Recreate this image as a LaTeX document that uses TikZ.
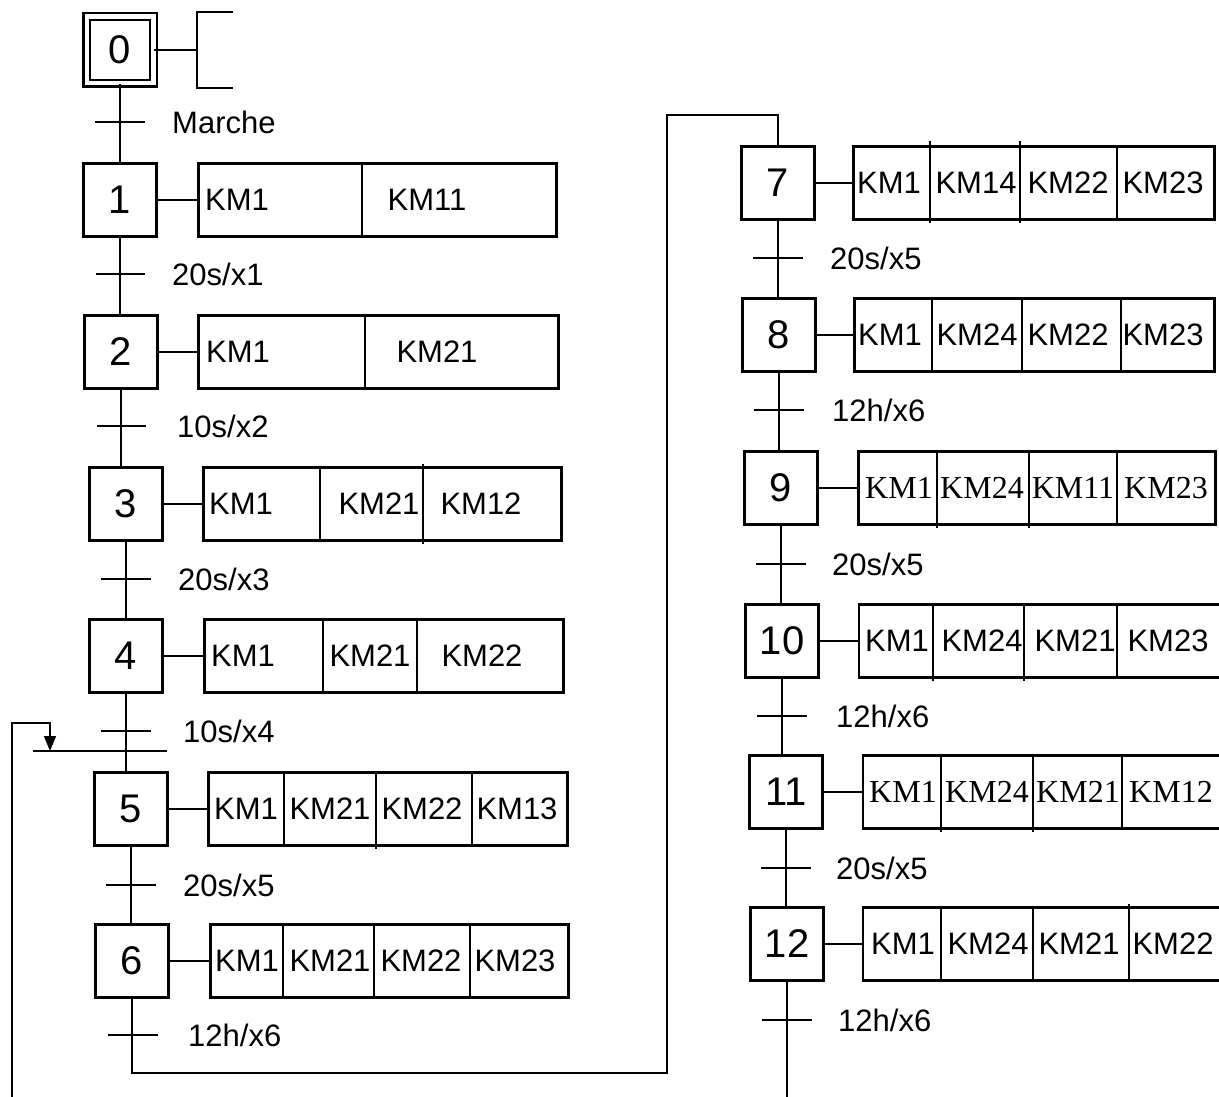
\documentclass[tikz,border=0pt]{standalone}
\usepackage{fontspec}
\setmainfont{Liberation Sans}
\newfontfamily\timesfont{Liberation Serif}
\usetikzlibrary{arrows.meta}
\begin{document}
\begin{tikzpicture}[x=1pt,y=-1pt]
	\tikzstyle{every node}=[font=\fontsize{31}{36}\selectfont]
	\tikzstyle{etape}=[draw, line width=2.8pt, minimum size=73.5pt, inner sep=0pt, font=\fontsize{40}{48}\selectfont]
	\tikzstyle{action}=[draw, line width=2.8pt, minimum height=73.5pt, inner sep=0pt]
	\tikzstyle{recept}=[inner sep=0pt, anchor=west]
	\tikzstyle{lien}=[line width=2.4pt]
	\tikzstyle{fin}=[line width=1.6pt]
	\useasboundingbox (0,0) rectangle (1219,1097);
	% colonne gauche
	\node [etape, double, double distance=4.5pt, line width=2.3pt, minimum size=66.5pt] (s0) at (120,50) {0};
	\node [etape] (s1) at (120,200) {1};
	\node [etape] (s2) at (121,352) {2};
	\node [etape] (s3) at (126,504) {3};
	\node [etape] (s4) at (126,656) {4};
	\node [etape] (s5) at (131,809) {5};
	\node [etape] (s6) at (132,961) {6};
	\coordinate (a0) at (197,50);
	\node [action, minimum width=358pt] (a1) at (377.5,200) {};
	\node [action, minimum width=360pt] (a2) at (378.5,352) {};
	\node [action, minimum width=358pt] (a3) at (382.5,504) {};
	\node [action, minimum width=359pt] (a4) at (384,656) {};
	\node [action, minimum width=359pt] (a5) at (388,809) {};
	\node [action, minimum width=358pt] (a6) at (389.5,961) {};
	\draw [lien] (s0.east) -- (a0);
	\draw [lien] (233,12) -- (197,12) -- (197,88) -- (233,88);
	\draw [lien] (s1.east) -- (a1.west);
	\draw [lien] (s2.east) -- (a2.west);
	\draw [lien] (s3.east) -- (a3.west);
	\draw [lien] (s4.east) -- (a4.west);
	\draw [lien] (s5.east) -- (a5.west);
	\draw [lien] (s6.east) -- (a6.west);
	\draw [fin] (362,162) -- (362,238);
	\draw [fin] (365,314) -- (365,390);
	\draw [fin] (320,466) -- (320,542) (423,464) -- (423,544);
	\draw [fin] (323,618) -- (323,694) (417,618) -- (417,694);
	\draw [fin] (284,771) -- (284,847) (376,771) -- (376,849) (472,771) -- (472,847);
	\draw [fin] (283,923) -- (283,999) (374,923) -- (374,999) (470,923) -- (470,999);
	\node (k1a) at (237,200) {KM1};
	\node (k1b) at (427,200) {KM11};
	\node (k2a) at (238,352) {KM1};
	\node (k2b) at (437,352) {KM21};
	\node (k3a) at (241,504) {KM1};
	\node (k3b) at (379,504) {KM21};
	\node (k3c) at (481,504) {KM12};
	\node (k4a) at (243,656) {KM1};
	\node (k4b) at (370,656) {KM21};
	\node (k4c) at (482,656) {KM22};
	\node (k5a) at (246,809) {KM1};
	\node (k5b) at (330,809) {KM21};
	\node (k5c) at (422,809) {KM22};
	\node (k5d) at (517,809) {KM13};
	\node (k6a) at (247,961) {KM1};
	\node (k6b) at (330,961) {KM21};
	\node (k6c) at (421,961) {KM22};
	\node (k6d) at (515,961) {KM23};
	\draw [lien] (s0.south) -- (s0.south |- s1.north);
	\draw [lien] (s1.south) -- (s1.south |- s2.north);
	\draw [lien] (s2.south) -- (s2.south |- s3.north);
	\draw [lien] (s3.south) -- (s3.south |- s4.north);
	\draw [lien] (s4.south) -- (s4.south |- s5.north);
	\draw [lien] (s5.south) -- (s5.south |- s6.north);
	\draw [lien] (95,122) -- (145,122);
	\draw [lien] (96,274) -- (145,274);
	\draw [lien] (97,426) -- (146,426);
	\draw [lien] (101,579) -- (151,579);
	\draw [lien] (101,731) -- (151,731);
	\draw [lien] (33,751) -- (167,751);
	\draw [lien] (106,885) -- (156,885);
	\draw [lien] (108,1035) -- (158,1035);
	\node [recept] (t0) at (172,122) {Marche};
	\node [recept] (t1) at (172,274) {20s/x1};
	\node [recept] (t2) at (177,426) {10s/x2};
	\node [recept] (t3) at (178,579) {20s/x3};
	\node [recept] (t4) at (183,731) {10s/x4};
	\node [recept] (t5) at (183,885) {20s/x5};
	\node [recept] (t6) at (188,1035) {12h/x6};
	% colonne droite
	\node [etape] (s7) at (778,183) {7};
	\node [etape] (s8) at (779,335) {8};
	\node [etape] (s9) at (781,488) {9};
	\node [etape] (s10) at (782,641) {10};
	\node [etape] (s11) at (786,792) {11};
	\node [etape] (s12) at (787,944) {12};
	\node [action, minimum width=361pt] (a7) at (1034,183) {};
	\node [action, minimum width=360pt] (a8) at (1034.5,335) {};
	\node [action, minimum width=357pt] (a9) at (1037,488) {};
	\node [action, minimum width=364pt] (a10) at (1041,641) {};
	\node [action, minimum width=360pt] (a11) at (1043,792) {};
	\node [action, minimum width=360pt] (a12) at (1043,944) {};
	\draw [lien] (s7.east) -- (a7.west);
	\draw [lien] (s8.east) -- (a8.west);
	\draw [lien] (s9.east) -- (a9.west);
	\draw [lien] (s10.east) -- (a10.west);
	\draw [lien] (s11.east) -- (a11.west);
	\draw [lien] (s12.east) -- (a12.west);
	\draw [fin] (930,141) -- (930,223) (1020,141) -- (1020,223) (1117,145) -- (1117,221);
	\draw [fin] (932,297) -- (932,373) (1022,297) -- (1022,373) (1121,297) -- (1121,373);
	\draw [fin] (937,450) -- (937,528) (1029,450) -- (1029,528) (1117,450) -- (1117,526);
	\draw [fin] (933,603) -- (933,681) (1024,603) -- (1024,681) (1117,603) -- (1117,679);
	\draw [fin] (941,754) -- (941,832) (1033,754) -- (1033,832) (1122,754) -- (1122,830);
	\draw [fin] (941,906) -- (941,982) (1033,906) -- (1033,982) (1129,904) -- (1129,982);
	\node (k7a) at (889,183) {KM1};
	\node (k7b) at (976,183) {KM14};
	\node (k7c) at (1068,183) {KM22};
	\node (k7d) at (1163,183) {KM23};
	\node (k8a) at (890,335) {KM1};
	\node (k8b) at (977,335) {KM24};
	\node (k8c) at (1068,335) {KM22};
	\node (k8d) at (1163,335) {KM23};
	\node [font=\fontsize{32}{36}\timesfont] (k9a) at (899,488) {KM1};
	\node [font=\fontsize{32}{36}\timesfont] (k9b) at (982,488) {KM24};
	\node [font=\fontsize{32}{36}\timesfont] (k9c) at (1073,488) {KM11};
	\node [font=\fontsize{32}{36}\timesfont] (k9d) at (1166,488) {KM23};
	\node (k10a) at (897,641) {KM1};
	\node (k10b) at (982,641) {KM24};
	\node (k10c) at (1075,641) {KM21};
	\node (k10d) at (1168,641) {KM23};
	\node [font=\fontsize{32}{36}\timesfont] (k11a) at (903,792) {KM1};
	\node [font=\fontsize{32}{36}\timesfont] (k11b) at (987,792) {KM24};
	\node [font=\fontsize{32}{36}\timesfont] (k11c) at (1078,792) {KM21};
	\node [font=\fontsize{32}{36}\timesfont] (k11d) at (1171,792) {KM12};
	\node (k12a) at (903,944) {KM1};
	\node (k12b) at (988,944) {KM24};
	\node (k12c) at (1079,944) {KM21};
	\node (k12d) at (1173,944) {KM22};
	\draw [lien] (s7.south) -- (s7.south |- s8.north);
	\draw [lien] (s8.south) -- (s8.south |- s9.north);
	\draw [lien] (s9.south) -- (s9.south |- s10.north);
	\draw [lien] (s10.south) -- (s10.south |- s11.north);
	\draw [lien] (s11.south) -- (s11.south |- s12.north);
	\draw [lien] (s12.south) -- ++(0,120);
	\draw [lien] (753,258) -- (803,258);
	\draw [lien] (754,410) -- (804,410);
	\draw [lien] (756,564) -- (806,564);
	\draw [lien] (757,716) -- (807,716);
	\draw [lien] (761,868) -- (811,868);
	\draw [lien] (762,1020) -- (812,1020);
	\node [recept] (t7) at (830,258) {20s/x5};
	\node [recept] (t8) at (832,410) {12h/x6};
	\node [recept] (t9) at (832,564) {20s/x5};
	\node [recept] (t10) at (836,716) {12h/x6};
	\node [recept] (t11) at (836,868) {20s/x5};
	\node [recept] (t12) at (838,1020) {12h/x6};
	% liaisons
	\draw [fin] (s6.south) -- ++(0,74) -| (667,115) -| (s7.north);
	\coordinate (r0) at (12,1110);
	\coordinate (c5) at (50,751);
	\draw [fin, -{Triangle[length=15pt,width=12pt]}] (r0) |- (50,723) -- (c5);
\end{tikzpicture}
\end{document}
